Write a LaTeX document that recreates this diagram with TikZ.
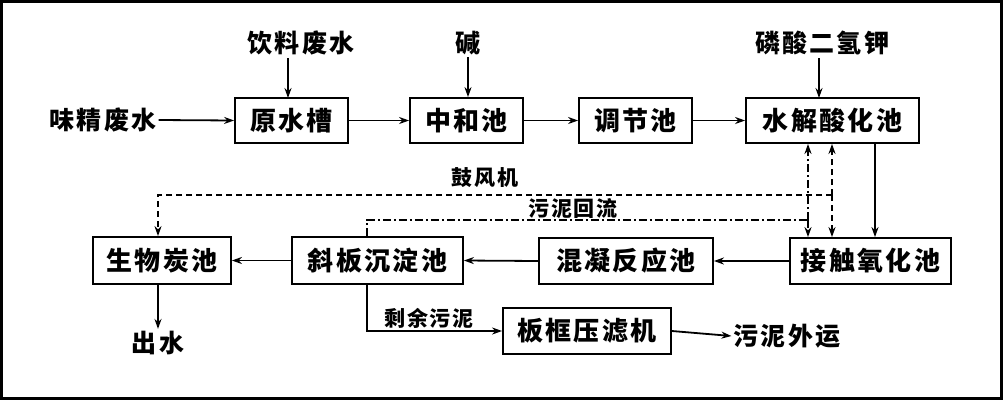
\documentclass[tikz,border=0pt]{standalone}
\usepackage{fontspec}
\newfontfamily\cjk{Noto Sans CJK SC}[LetterSpace=9]
\usetikzlibrary{arrows.meta}
\tikzset{
  box/.style={draw, line width=1.8pt, inner sep=0pt, minimum height=45pt,
    font=\cjk\bfseries\fontsize{26}{26}\selectfont},
  lbl/.style={inner sep=2pt, font=\cjk\bfseries\fontsize{25}{25}\selectfont},
  slbl/.style={inner sep=1pt, font=\cjk\bfseries\fontsize{21}{21}\selectfont},
  flow/.style={line width=1.8pt, -{Stealth[length=10pt,width=7pt]}},
  air/.style={line width=1.8pt, dash pattern=on 6pt off 4pt},
  sludge/.style={line width=1.8pt, dash pattern=on 8pt off 3pt on 2pt off 3pt},
  tip/.style={-{Stealth[length=10pt,width=7pt]}}
}
\begin{document}
\begin{tikzpicture}[x=1pt,y=-1pt]
\useasboundingbox (0,0) rectangle (1003,400);
\draw[line width=3pt] (1.5,1.5) rectangle (1001.5,398.5);

% top row boxes
\node[box, minimum width=113pt] (yuan) at (291.5,120.5) {原水槽};
\node[box, minimum width=113pt] (zhong) at (466.5,120.5) {中和池};
\node[box, minimum width=113pt] (tiao) at (635.5,120.5) {调节池};
\node[box, minimum width=173pt] (shui) at (832.5,120.5) {水解酸化池};

% bottom row boxes
\node[box, minimum width=138pt, minimum height=47pt] (sheng) at (162,260.5) {生物炭池};
\node[box, minimum width=171pt, minimum height=47pt] (xie) at (377.5,260.5) {斜板沉淀池};
\node[box, minimum width=174pt, minimum height=46pt] (hun) at (626,261) {混凝反应池};
\node[box, minimum width=161pt, minimum height=46pt] (jie) at (870.5,261) {接触氧化池};
\node[box, minimum width=168pt, minimum height=46pt] (ban) at (587,331) {板框压滤机};

% labels
\node[lbl] (weijing) at (103,120) {味精废水};
\node[lbl] (yinliao) at (301,43) {饮料废水};
\node[lbl] (jian) at (468,43) {碱};
\node[lbl] (linsuan) at (822,43) {磷酸二氢钾};
\node[lbl] (chushui) at (158,343) {出水};
\node[lbl] (waiyun) at (787,336) {污泥外运};
\node[slbl] (gufeng) at (485,178) {鼓风机};
\node[slbl] (huiliu) at (573,209) {污泥回流};
\node[slbl] (shengyu) at (429,318) {剩余污泥};

% coordinates
\coordinate (a1) at (288,58);
\coordinate (a2) at (288,98);
\coordinate (b1) at (819,58);
\coordinate (b2) at (819,98);
\coordinate (airN) at (832,195);
\coordinate (airW) at (158,195);
\coordinate (slE) at (808,220);
\coordinate (slW) at (367,220);
\coordinate (sd) at (367,331);

% top flows
\draw[flow] (weijing.east) -- (yuan.west);
\draw[flow] (a1) -- (a2);
\draw[flow] (jian.south) -- (zhong.north -| jian.south);
\draw[flow] (b1) -- (b2);
\draw[flow] (yuan.east) -- (zhong.west);
\draw[flow] (zhong.east) -- (tiao.west);
\draw[flow] (tiao.east) -- (shui.west);

% down to contact oxidation
\draw[flow] (shui.south -| 875,0) -- (jie.north -| 875,0);

% bottom flows
\draw[flow] (jie.west) -- (hun.east);
\draw[flow] (hun.west) -- (xie.east);
\draw[flow] (xie.west) -- (sheng.east);
\draw[flow] (sheng.south -| chushui.north) -- (chushui.north);
\draw[flow] (xie.south -| sd) -- (sd) -- (ban.west);
\draw[flow] (ban.east) -- (waiyun.west);

% air (dashed)
\draw[air, tip] (airN) -- (shui.south -| airN);
\draw[air, tip] (airN) -- (jie.north -| airN);
\draw[air, tip] (airN) -- (airW) -- (sheng.north -| airW);

% sludge return (dash-dot)
\draw[sludge] (xie.north -| slW) -- (slW) -- (slE);
\draw[sludge, tip] (slE) -- (shui.south -| slE);
\draw[sludge, tip] (slE) -- (jie.north -| slE);
\end{tikzpicture}
\end{document}
